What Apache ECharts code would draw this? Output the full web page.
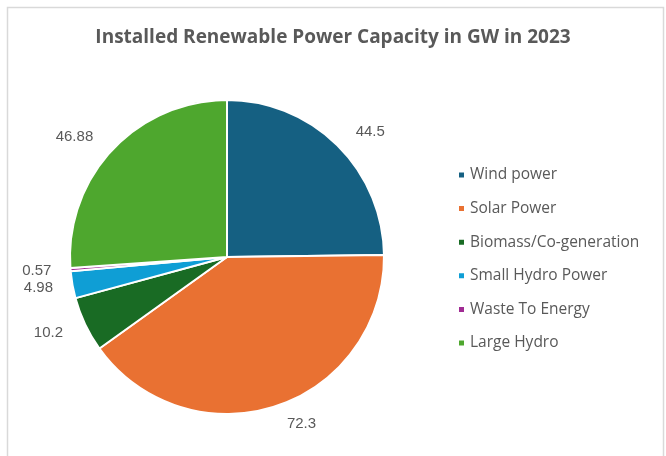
<!DOCTYPE html>
<html>
<head>
<meta charset="utf-8">
<script src="https://cdn.jsdelivr.net/npm/echarts@6/dist/echarts.min.js"></script>
<style>
  html, body {margin: 0; padding: 0; background: #fff;}
  #chart {width: 666px; height: 456px;}
</style>
</head>
<body>
<div id="chart"></div>
<script>
const categories = ['Wind power', 'Solar Power', 'Biomass/Co-generation', 'Small Hydro Power', 'Waste To Energy', 'Large Hydro'];
const values = [44.5, 72.3, 10.2, 4.98, 0.57, 46.88];
const colors = ['#156082', '#e97132', '#196b24', '#0f9ed5', '#a02b93', '#4ea72e'];

const font = '"Open Sans", "Liberation Sans", sans-serif';
const textColor = '#595959';

const myChart = echarts.init(document.getElementById('chart'));
myChart.setOption({
  color: colors,
  animation: false,
  title: {
    text: 'Installed Renewable Power Capacity in GW in 2023',
    left: 'center',
    top: 23,
    textStyle: {color: textColor, fontSize: 19, fontWeight: 'bold', fontFamily: font}
  },
  graphic: [{
    type: 'rect',
    shape: {x: 7.5, y: 7.5, width: 656, height: 470},
    style: {fill: 'none', stroke: '#d9d9d9', lineWidth: 1.5},
    silent: true
  }],
  legend: {
    orient: 'vertical',
    left: 452,
    top: 162,
    icon: 'rect',
    itemWidth: 7,
    itemHeight: 7,
    itemGap: 17.6,
    textStyle: {color: textColor, fontSize: 15.5, fontFamily: font}
  },
  series: [{
    type: 'pie',
    center: [227, 257],
    radius: 157,
    startAngle: 90,
    clockwise: true,
    itemStyle: {borderColor: '#fff', borderWidth: 2},
    label: {
      position: 'outside',
      color: textColor,
      fontSize: 15,
      fontFamily: '"Liberation Sans", Arial, sans-serif',
      formatter: p => String(p.value)
    },
    labelLine: {show: false, length: 19, length2: 0},
    data: categories.map((name, i) => ({name, value: values[i]}))
  }]
});
</script>
</body>
</html>
